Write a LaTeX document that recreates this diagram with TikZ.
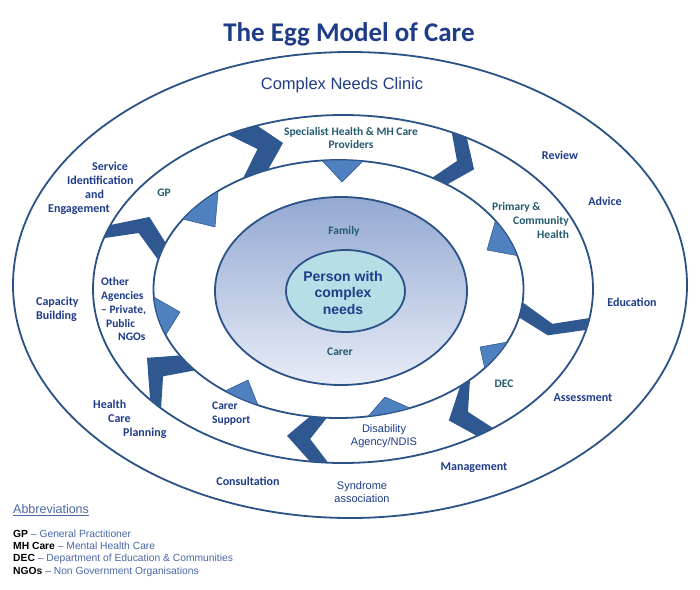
\documentclass[tikz,border=0pt]{standalone}
\usepackage{fontspec}
\setmainfont{Carlito}
\newfontfamily\arialfont{Liberation Sans}
\usepackage{tikz}

\definecolor{navy}{HTML}{1F3C88}
\definecolor{tealtext}{HTML}{235A6E}
\definecolor{ringblue}{HTML}{2B5287}
\definecolor{chevblue}{HTML}{2F5890}
\definecolor{triblue}{HTML}{4F80C0}
\definecolor{eggtop}{HTML}{93A9D2}
\definecolor{eggbot}{HTML}{E8ECF7}
\definecolor{corefill}{HTML}{B7DDE6}
\definecolor{abbrblue}{HTML}{4A67A6}

\begin{document}
\begin{tikzpicture}[x=1pt,y=-1pt,
    ringline/.style={draw=ringblue,line width=1.8pt},
    chevfill/.style={fill=chevblue},
    trifill/.style={fill=triblue,draw=ringblue,line width=0.5pt,line join=round},
    eggtitle/.style={font=\fontsize{27}{32}\selectfont\bfseries,text=navy,inner sep=0pt},
    outerlabel/.style={font=\fontsize{12}{13.8}\selectfont\bfseries,text=navy,align=center,inner sep=0pt},
    ringlabel/.style={font=\fontsize{11.5}{13.8}\selectfont\bfseries,text=tealtext,align=center,inner sep=0pt},
    arialabel/.style={font=\arialfont\fontsize{11}{13}\selectfont,text=navy,align=center,inner sep=0pt},
    abbrlabel/.style={font=\arialfont\fontsize{10.3}{12.4}\selectfont,text=abbrblue,align=left,inner sep=0pt}]
  \useasboundingbox (0,0) rectangle (700,589);
  \fill[white] (0,0) rectangle (700,589);

  % rings
  \draw[ringline] (350,285) ellipse [x radius=337pt, y radius=233pt];
  \draw[ringline] (343,289) ellipse [x radius=250pt, y radius=174pt];
  \draw[ringline] (338.5,289) ellipse [x radius=185pt, y radius=129pt];
  \draw[ringline,top color=eggtop,bottom color=eggbot] (341,291) ellipse [x radius=126pt, y radius=94pt];
  \draw[ringline,fill=corefill] (345.5,291) ellipse [x radius=59.5pt, y radius=41pt];

  % chevrons between the rings
  \foreach \a/\b/\c/\d/\e/\f in {117.4/110.1/105.4/112.4/121.1/112.5,
      64.2/60.3/52.2/54.1/59.6/57.7, -9.6/-13.6/-17.8/-12.7/-5.9/-13.3,
      -53.1/-57.6/-60.2/-48.9/-44.7/-54.2, -93.4/-97.6/-104.3/-98.9/-93.6/-98.1,
      -136.7/-140.5/-153/-149/-140.9/-144.8, 163/158.4/151.6/159.1/167/158.3}
    \fill[chevfill] ([shift={(343,289)}]\a:250pt and 174pt)
      arc[start angle=\a, end angle=\b, x radius=250pt, y radius=174pt]
      -- ([shift={(340.75,289)}]\c:217.5pt and 151.5pt)
      -- ([shift={(338.5,289)}]\d:185pt and 129pt)
      arc[start angle=\d, end angle=\e, x radius=185pt, y radius=129pt]
      -- ([shift={(340.75,289)}]\f:217.5pt and 151.5pt) -- cycle;

  % arrow heads on the inner ring
  \foreach \a/\b/\px/\py in {95.1/82.4/342/182, 130.6/147.2/215/227,
      32/15/487/250, -24.3/-37.8/480/347, -67.3/-80.8/385/397,
      -115.8/-127.8/248/380, 183.6/200.9/180/312}
    \filldraw[trifill] ([shift={(338.5,289)}]\a:185pt and 129pt)
      arc[start angle=\a, end angle=\b, x radius=185pt, y radius=129pt]
      -- (\px,\py) -- cycle;

  \node[eggtitle,anchor=base] (title) at (349,41) {The Egg Model of Care};
  \node[arialabel,font=\arialfont\fontsize{16.5}{20}\selectfont] (clinic) at (342,85) {Complex Needs Clinic};

  % outer ring
  \node[outerlabel] (review) at (560,155) {Review};
  \node[outerlabel] (advice) at (605,201) {Advice};
  \node[outerlabel] (education) at (632,302) {Education};
  \node[outerlabel] (assessment) at (583,398) {Assessment};
  \node[outerlabel] (management) at (474,468) {Management};
  \node[arialabel] (syndrome) at (362,492) {Syndrome\\association};
  \node[outerlabel] (consultation) at (248,481) {Consultation};
  \node[outerlabel,align=left,anchor=north west] (planning) at (93,400) {Health\\\hspace*{15pt}Care\\\hspace*{30pt}Planning};
  \node[outerlabel,align=left,anchor=west] (capacity) at (36,309.5) {Capacity\\Building};
  \node[outerlabel,align=left,anchor=north west] (service) at (48,162) {\hspace*{44pt}Service\\\hspace*{19pt}Identification\\\hspace*{37pt}and\\Engagement};

  % middle ring
  \node[ringlabel] (specialist) at (351,138) {Specialist Health \& MH Care\\Providers};
  \node[ringlabel,align=left,anchor=north west] (primary) at (492,202.5) {Primary \&\\\hspace*{21pt}Community\\\hspace*{45pt}Health};
  \node[ringlabel] (dec) at (504,384) {DEC};
  \node[arialabel] (disability) at (384,436.5) {Disability\\Agency/NDIS};
  \node[ringlabel,text=navy,align=left,anchor=north west] (carersupport) at (212,401.5) {Carer\\Support};
  \node[ringlabel,text=navy,align=left,anchor=north west] (agencies) at (101,277.5) {Other\\Agencies\\– Private,\\\hspace*{5pt}Public\\\hspace*{17pt}NGOs};
  \node[ringlabel] (gp) at (164,193) {GP};

  % egg
  \node[ringlabel] (family) at (344,231) {Family};
  \node[ringlabel] (carer) at (340,352) {Carer};
  \node[arialabel,font=\arialfont\bfseries\fontsize{14}{16.5}\selectfont] (person) at (343,292.5) {Person with\\complex\\needs};

  % abbreviations
  \node[abbrlabel,font=\arialfont\fontsize{12.5}{15}\selectfont,anchor=base west] (abbrev) at (13,513.5) {\underline{Abbreviations}};
  \node[abbrlabel,anchor=north west] (abbrlist) at (13,529.5) {\textcolor{black}{\bfseries GP} – General Practitioner\\
    \textcolor{black}{\bfseries MH Care} – Mental Health Care\\
    \textcolor{black}{\bfseries DEC} – Department of Education \& Communities\\
    \textcolor{black}{\bfseries NGOs} – Non Government Organisations};
\end{tikzpicture}
\end{document}
